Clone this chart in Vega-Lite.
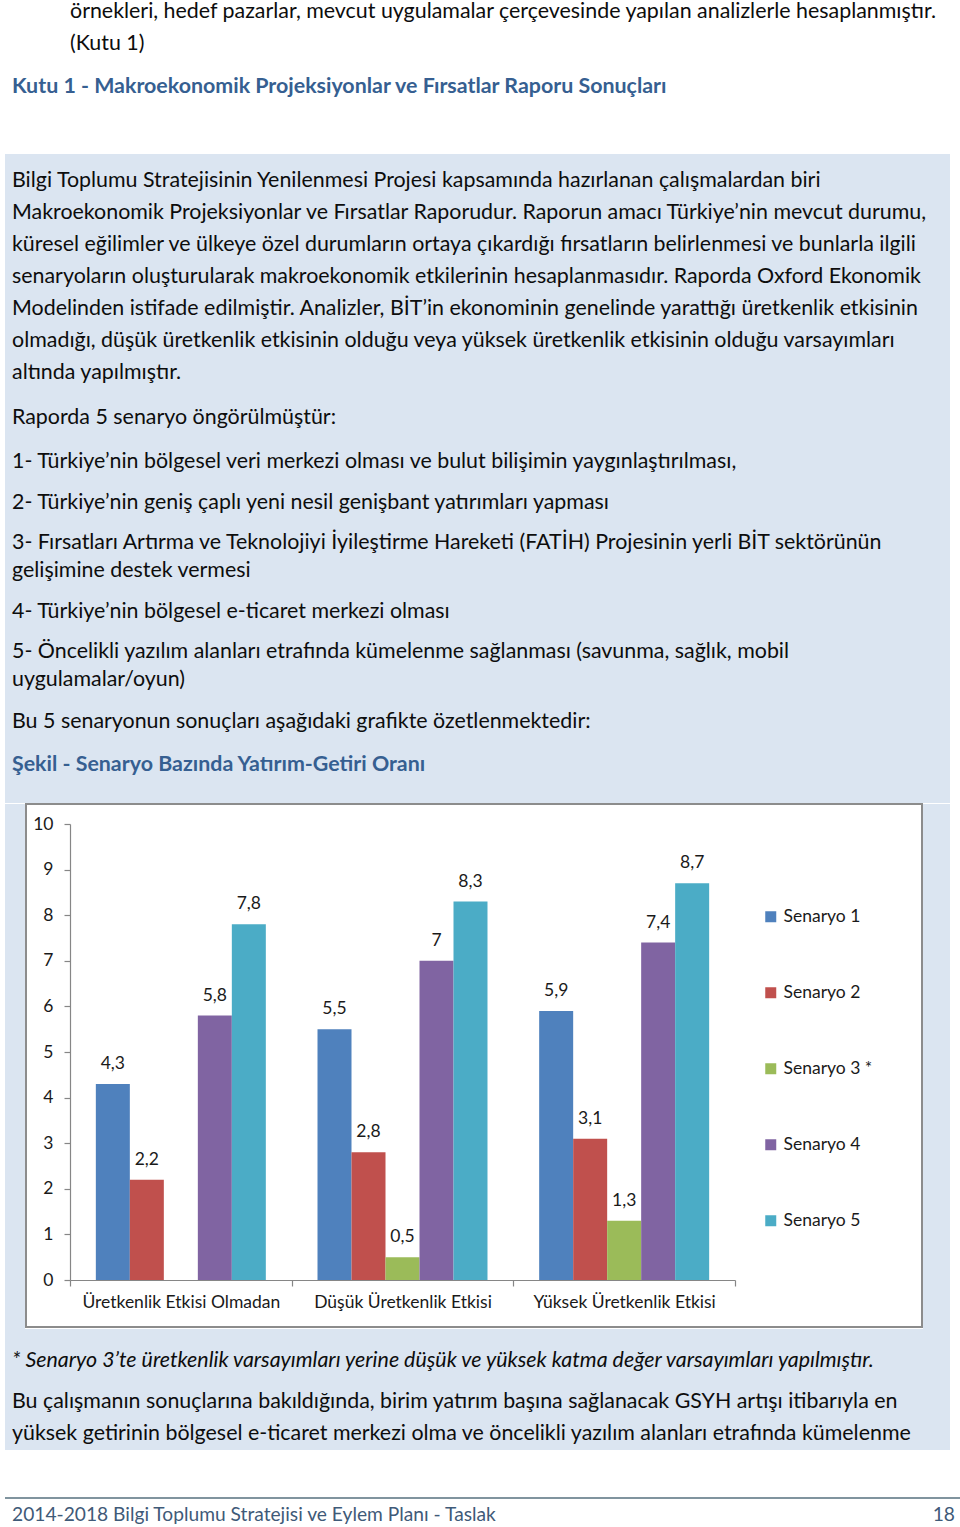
{
  "$schema": "https://vega.github.io/schema/vega-lite/v6.json",
  "padding": {"left": 5, "top": 0, "right": 0, "bottom": 0},
  "background": "white",
  "bounds": "full",
  "spacing": 0,
  "config": {
    "font": "Lato",
    "view": {"stroke": null},
    "locale": {"number": {"decimal": ",", "thousands": ".", "grouping": [3], "currency": ["", " TL"]}}
  },
  "vconcat": [
    {
      "width": 945, "height": 154,
      "layer": [
        {
          "data": {"values": [
            {"line": 1, "text": "örnekleri, hedef pazarlar, mevcut uygulamalar çerçevesinde yapılan analizlerle hesaplanmıştır."},
            {"line": 2, "text": "(Kutu 1)"}
          ]},
          "mark": {"type": "text", "align": "left", "baseline": "middle", "x": 65, "fontSize": 21.4, "color": "#0d0d0d"},
          "encoding": {
            "y": {"field": "line", "type": "quantitative", "axis": null, "scale": {"domain": [0.625, 5.4375], "reverse": true, "nice": false, "zero": false}},
            "text": {"field": "text"}
          }
        },
        {
          "data": {"values": [
            {"line": 3, "text": "Kutu 1 - Makroekonomik Projeksiyonlar ve Fırsatlar Raporu Sonuçları"}
          ]},
          "mark": {"type": "text", "align": "left", "baseline": "middle", "x": 7, "dy": 11, "fontSize": 21.4, "fontWeight": "bold", "color": "#365f91"},
          "encoding": {
            "y": {"field": "line", "type": "quantitative", "axis": null},
            "text": {"field": "text"}
          }
        }
      ]
    },
    {
      "width": 945, "height": 242,
      "view": {"fill": "#dbe5f1"},
      "data": {"values": [
        {"line": 1, "text": "Bilgi Toplumu Stratejisinin Yenilenmesi Projesi kapsamında hazırlanan çalışmalardan biri"},
        {"line": 2, "text": "Makroekonomik Projeksiyonlar ve Fırsatlar Raporudur. Raporun amacı Türkiye’nin mevcut durumu,"},
        {"line": 3, "text": "küresel eğilimler ve ülkeye özel durumların ortaya çıkardığı fırsatların belirlenmesi ve bunlarla ilgili"},
        {"line": 4, "text": "senaryoların oluşturularak makroekonomik etkilerinin hesaplanmasıdır. Raporda Oxford Ekonomik"},
        {"line": 5, "text": "Modelinden istifade edilmiştir. Analizler, BİT’in ekonominin genelinde yarattığı üretkenlik etkisinin"},
        {"line": 6, "text": "olmadığı, düşük üretkenlik etkisinin olduğu veya yüksek üretkenlik etkisinin olduğu varsayımları"},
        {"line": 7, "text": "altında yapılmıştır."}
      ]},
      "mark": {"type": "text", "align": "left", "baseline": "middle", "x": 7, "fontSize": 21.4, "color": "#0d0d0d"},
      "encoding": {
        "y": {"field": "line", "type": "quantitative", "axis": null, "scale": {"domain": [0.15625, 7.71875], "reverse": true, "nice": false, "zero": false}},
        "text": {"field": "text"}
      }
    },
    {
      "width": 945, "height": 44,
      "view": {"fill": "#dbe5f1"},
      "data": {"values": [{"line": 1, "text": "Raporda 5 senaryo öngörülmüştür:"}]},
      "mark": {"type": "text", "align": "left", "baseline": "middle", "x": 7, "fontSize": 21.4, "color": "#0d0d0d"},
      "encoding": {
        "y": {"field": "line", "type": "quantitative", "axis": null, "scale": {"domain": [0, 2], "reverse": true, "nice": false, "zero": false}},
        "text": {"field": "text"}
      }
    },
    {
      "width": 945, "height": 43,
      "view": {"fill": "#dbe5f1"},
      "data": {"values": [{"line": 1, "text": "1- Türkiye’nin bölgesel veri merkezi olması ve bulut bilişimin yaygınlaştırılması,"}]},
      "mark": {"type": "text", "align": "left", "baseline": "middle", "x": 7, "fontSize": 21.4, "color": "#0d0d0d"},
      "encoding": {
        "y": {"field": "line", "type": "quantitative", "axis": null, "scale": {"domain": [0, 2], "reverse": true, "nice": false, "zero": false}},
        "text": {"field": "text"}
      }
    },
    {
      "width": 945, "height": 40,
      "view": {"fill": "#dbe5f1"},
      "data": {"values": [{"line": 1, "text": "2- Türkiye’nin geniş çaplı yeni nesil genişbant yatırımları yapması"}]},
      "mark": {"type": "text", "align": "left", "baseline": "middle", "x": 7, "fontSize": 21.4, "color": "#0d0d0d"},
      "encoding": {
        "y": {"field": "line", "type": "quantitative", "axis": null, "scale": {"domain": [0, 2], "reverse": true, "nice": false, "zero": false}},
        "text": {"field": "text"}
      }
    },
    {
      "width": 945, "height": 69,
      "view": {"fill": "#dbe5f1"},
      "data": {"values": [
        {"line": 1, "text": "3- Fırsatları Artırma ve Teknolojiyi İyileştirme Hareketi (FATİH) Projesinin yerli BİT sektörünün"},
        {"line": 2, "text": "gelişimine destek vermesi"}
      ]},
      "mark": {"type": "text", "align": "left", "baseline": "middle", "x": 7, "fontSize": 21.4, "color": "#0d0d0d"},
      "encoding": {
        "y": {"field": "line", "type": "quantitative", "axis": null, "scale": {"domain": [0.285714, 2.75], "reverse": true, "nice": false, "zero": false}},
        "text": {"field": "text"}
      }
    },
    {
      "width": 945, "height": 40,
      "view": {"fill": "#dbe5f1"},
      "data": {"values": [{"line": 1, "text": "4- Türkiye’nin bölgesel e-ticaret merkezi olması"}]},
      "mark": {"type": "text", "align": "left", "baseline": "middle", "x": 7, "fontSize": 21.4, "color": "#0d0d0d"},
      "encoding": {
        "y": {"field": "line", "type": "quantitative", "axis": null, "scale": {"domain": [0, 2], "reverse": true, "nice": false, "zero": false}},
        "text": {"field": "text"}
      }
    },
    {
      "width": 945, "height": 68,
      "view": {"fill": "#dbe5f1"},
      "data": {"values": [
        {"line": 1, "text": "5- Öncelikli yazılım alanları etrafında kümelenme sağlanması (savunma, sağlık, mobil"},
        {"line": 2, "text": "uygulamalar/oyun)"}
      ]},
      "mark": {"type": "text", "align": "left", "baseline": "middle", "x": 7, "fontSize": 21.4, "color": "#0d0d0d"},
      "encoding": {
        "y": {"field": "line", "type": "quantitative", "axis": null, "scale": {"domain": [0.285714, 2.714286], "reverse": true, "nice": false, "zero": false}},
        "text": {"field": "text"}
      }
    },
    {
      "width": 945, "height": 43,
      "view": {"fill": "#dbe5f1"},
      "data": {"values": [{"line": 1, "text": "Bu 5 senaryonun sonuçları aşağıdaki grafikte özetlenmektedir:"}]},
      "mark": {"type": "text", "align": "left", "baseline": "middle", "x": 7, "fontSize": 21.4, "color": "#0d0d0d"},
      "encoding": {
        "y": {"field": "line", "type": "quantitative", "axis": null, "scale": {"domain": [0, 2], "reverse": true, "nice": false, "zero": false}},
        "text": {"field": "text"}
      }
    },
    {
      "width": 945, "height": 60,
      "view": {"fill": "#dbe5f1"},
      "data": {"values": [{"line": 1, "text": "Şekil - Senaryo Bazında Yatırım-Getiri Oranı"}]},
      "mark": {"type": "text", "align": "left", "baseline": "middle", "x": 7, "fontSize": 21.4, "fontWeight": "bold", "color": "#365f91"},
      "encoding": {
        "y": {"field": "line", "type": "quantitative", "axis": null, "scale": {"domain": [0.26667, 2.26667], "reverse": true, "nice": false, "zero": false}},
        "text": {"field": "text"}
      }
    },
    {
      "hconcat": [
        {
          "width": 20, "height": 525,
          "view": {"fill": "#dbe5f1"},
          "data": {"values": []},
          "mark": "point",
          "encoding": {}
        },
        {
          "width": 896, "height": 523,
          "view": {"fill": "white", "stroke": "#8c8c8c", "strokeWidth": 2},
          "data": {"values": [
            {"grup": "Üretkenlik Etkisi Olmadan", "senaryo": "Senaryo 1", "oran": 4.3},
            {"grup": "Üretkenlik Etkisi Olmadan", "senaryo": "Senaryo 2", "oran": 2.2},
            {"grup": "Üretkenlik Etkisi Olmadan", "senaryo": "Senaryo 4", "oran": 5.8},
            {"grup": "Üretkenlik Etkisi Olmadan", "senaryo": "Senaryo 5", "oran": 7.8},
            {"grup": "Düşük Üretkenlik Etkisi", "senaryo": "Senaryo 1", "oran": 5.5},
            {"grup": "Düşük Üretkenlik Etkisi", "senaryo": "Senaryo 2", "oran": 2.8},
            {"grup": "Düşük Üretkenlik Etkisi", "senaryo": "Senaryo 3 *", "oran": 0.5},
            {"grup": "Düşük Üretkenlik Etkisi", "senaryo": "Senaryo 4", "oran": 7},
            {"grup": "Düşük Üretkenlik Etkisi", "senaryo": "Senaryo 5", "oran": 8.3},
            {"grup": "Yüksek Üretkenlik Etkisi", "senaryo": "Senaryo 1", "oran": 5.9},
            {"grup": "Yüksek Üretkenlik Etkisi", "senaryo": "Senaryo 2", "oran": 3.1},
            {"grup": "Yüksek Üretkenlik Etkisi", "senaryo": "Senaryo 3 *", "oran": 1.3},
            {"grup": "Yüksek Üretkenlik Etkisi", "senaryo": "Senaryo 4", "oran": 7.4},
            {"grup": "Yüksek Üretkenlik Etkisi", "senaryo": "Senaryo 5", "oran": 8.7}
          ]},
          "encoding": {
            "x": {
              "field": "grup", "type": "nominal",
              "sort": ["Üretkenlik Etkisi Olmadan", "Düşük Üretkenlik Etkisi", "Yüksek Üretkenlik Etkisi"],
              "scale": {"range": [44, 709], "paddingInner": 0, "paddingOuter": 0},
              "axis": {
                "title": null, "orient": "bottom", "offset": -47, "labelAngle": 0, "labelLimit": 400,
                "tickBand": "extent", "tickSize": 6, "tickColor": "#868686", "domainColor": "#868686",
                "tickWidth": 1.2, "domainWidth": 1.2,
                "labelFontSize": 17.5, "labelColor": "#1a1a1a", "labelPadding": 7
              }
            },
            "xOffset": {
              "field": "senaryo", "type": "nominal",
              "scale": {"domain": ["Senaryo 1", "Senaryo 2", "Senaryo 3 *", "Senaryo 4", "Senaryo 5"], "paddingInner": 0, "paddingOuter": 0.76}
            },
            "y": {
              "field": "oran", "type": "quantitative",
              "scale": {"domain": [0, 10], "range": [476, 20], "nice": false},
              "axis": {
                "title": null, "offset": -44, "values": [0, 1, 2, 3, 4, 5, 6, 7, 8, 9, 10], "format": "d",
                "grid": false, "tickSize": 6, "tickColor": "#868686", "domainColor": "#868686",
                "tickWidth": 1.2, "domainWidth": 1.2,
                "labelFontSize": 17.5, "labelColor": "#1a1a1a", "labelPadding": 11
              }
            }
          },
          "layer": [
            {
              "mark": {"type": "bar"},
              "encoding": {
                "color": {
                  "field": "senaryo", "type": "nominal",
                  "scale": {"domain": ["Senaryo 1", "Senaryo 2", "Senaryo 3 *", "Senaryo 4", "Senaryo 5"], "range": ["#4f81bd", "#c0504d", "#9bbb59", "#8064a2", "#4bacc6"]},
                  "legend": {
                    "title": null, "orient": "none", "legendX": 757, "legendY": 908,
                    "symbolType": "square", "symbolSize": 121, "symbolStrokeWidth": 0,
                    "labelFontSize": 17.5, "labelColor": "#1a1a1a", "labelOffset": 4, "rowPadding": 57
                  }
                }
              }
            },
            {
              "mark": {"type": "text", "baseline": "middle", "dy": -20, "fontSize": 17.5, "color": "#1a1a1a"},
              "encoding": {
                "text": {"field": "oran", "type": "quantitative", "format": "~g"}
              }
            }
          ]
        },
        {
          "width": 27, "height": 525,
          "view": {"fill": "#dbe5f1"},
          "data": {"values": []},
          "mark": "point",
          "encoding": {}
        }
      ],
      "spacing": 0,
      "bounds": "full"
    },
    {
      "width": 945, "height": 121,
      "view": {"fill": "#dbe5f1"},
      "layer": [
        {
          "data": {"values": [
            {"line": 1, "text": "* Senaryo 3’te üretkenlik varsayımları yerine düşük ve yüksek katma değer varsayımları yapılmıştır."}
          ]},
          "mark": {"type": "text", "align": "left", "baseline": "middle", "x": 7, "dy": -9, "fontSize": 21.4, "fontStyle": "italic", "color": "#0d0d0d"},
          "encoding": {
            "y": {"field": "line", "type": "quantitative", "axis": null, "scale": {"domain": [-0.28125, 3.5], "reverse": true, "nice": false, "zero": false}},
            "text": {"field": "text"}
          }
        },
        {
          "data": {"values": [
            {"line": 2, "text": "Bu çalışmanın sonuçlarına bakıldığında, birim yatırım başına sağlanacak GSYH artışı itibarıyla en"},
            {"line": 3, "text": "yüksek getirinin bölgesel e-ticaret merkezi olma ve öncelikli yazılım alanları etrafında kümelenme"}
          ]},
          "mark": {"type": "text", "align": "left", "baseline": "middle", "x": 7, "fontSize": 21.4, "color": "#0d0d0d"},
          "encoding": {
            "y": {"field": "line", "type": "quantitative", "axis": null},
            "text": {"field": "text"}
          }
        }
      ]
    },
    {
      "width": 955, "height": 78,
      "layer": [
        {
          "data": {"values": [{"sep": "footer"}]},
          "mark": {"type": "rect", "color": "#56707e"},
          "encoding": {
            "y": {"datum": 0.445, "type": "quantitative", "axis": null, "scale": {"domain": [-1.03125, 1.40625], "reverse": true, "nice": false, "zero": false}},
            "y2": {"datum": 0.492}
          }
        },
        {
          "data": {"values": [{"line": 1, "text": "2014-2018 Bilgi Toplumu Stratejisi ve Eylem Planı - Taslak"}]},
          "mark": {"type": "text", "align": "left", "baseline": "middle", "x": 7, "fontSize": 19.2, "color": "#3f5a78"},
          "encoding": {
            "y": {"field": "line", "type": "quantitative", "axis": null},
            "text": {"field": "text"}
          }
        },
        {
          "data": {"values": [{"line": 1, "text": "18"}]},
          "mark": {"type": "text", "align": "right", "baseline": "middle", "x": 950, "fontSize": 19.2, "color": "#3f5a78"},
          "encoding": {
            "y": {"field": "line", "type": "quantitative", "axis": null},
            "text": {"field": "text"}
          }
        }
      ]
    }
  ]
}
